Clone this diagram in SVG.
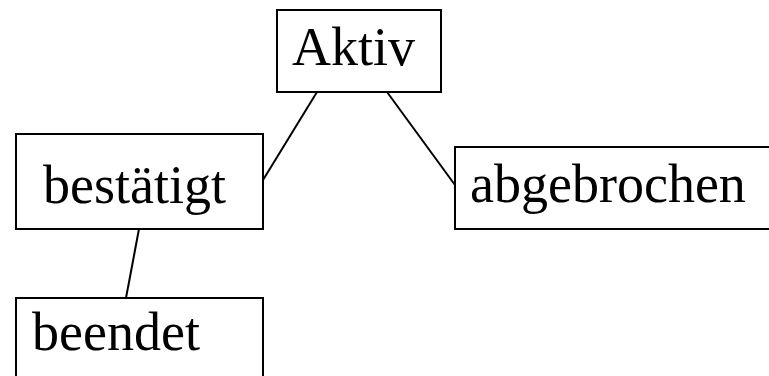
<svg xmlns="http://www.w3.org/2000/svg" width="769" height="376" viewBox="0 0 769 376">
<style>
.box{fill:#fff;stroke:#000;stroke-width:2}
.lbl{font-family:"Liberation Serif","Times New Roman",serif;font-size:54px;fill:#000}
.edge{stroke:#000;stroke-width:2;fill:none}
</style>
<rect width="769" height="376" fill="#fff"/>
<g id="connectors">
<line class="edge" x1="317" y1="92" x2="263" y2="180"/>
<line class="edge" x1="387" y1="92" x2="455" y2="185"/>
<line class="edge" x1="139" y1="229" x2="126" y2="298"/>
</g>
<g id="aktiv">
<rect class="box" x="277" y="10" width="164" height="82"/>
<text class="lbl" x="292" y="65">Aktiv</text>
</g>
<g id="bestaetigt">
<rect class="box" x="16" y="134" width="247" height="95"/>
<text class="lbl" x="43" y="203">bestätigt</text>
</g>
<g id="abgebrochen">
<rect class="box" x="455" y="147" width="330" height="82"/>
<text class="lbl" x="470" y="202">abgebrochen</text>
</g>
<g id="beendet">
<rect class="box" x="16" y="298" width="247" height="100"/>
<text class="lbl" x="32" y="350">beendet</text>
</g>
</svg>
